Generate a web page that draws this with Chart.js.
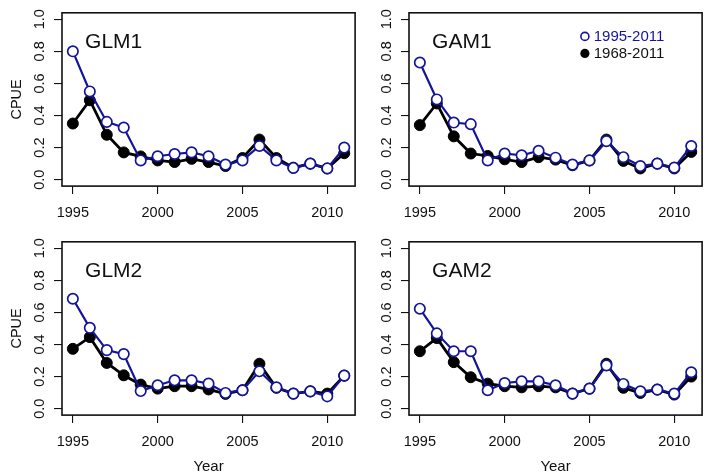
<!DOCTYPE html>
<html>
<head>
<meta charset="utf-8">
<script src="https://cdn.jsdelivr.net/npm/chart.js@4/dist/chart.umd.min.js"></script>
<style>
  html, body { margin: 0; padding: 0; background: #fff; width: 704px; height: 474px; overflow: hidden; position: relative; }
  canvas { position: absolute; }
</style>
</head>
<body>
<canvas id="glm1" width="362" height="237" style="left:0;top:0"></canvas>
<canvas id="gam1" width="362" height="237" style="left:347px;top:0"></canvas>
<canvas id="glm2" width="362" height="250" style="left:0;top:229px"></canvas>
<canvas id="gam2" width="362" height="250" style="left:347px;top:229px"></canvas>
<script>
const years = [1995, 1996, 1997, 1998, 1999, 2000, 2001, 2002, 2003, 2004, 2005, 2006, 2007, 2008, 2009, 2010, 2011];
const yearTicks = [1995, 2000, 2005, 2010];
const cpueTicks = [0, 0.2, 0.4, 0.6, 0.8, 1.0];
const seriesNames = ['1995-2011', '1968-2011'];

// CPUE index per model, short series (1995-2011) and long series (1968-2011)
const glm1Recent = [0.80, 0.55, 0.36, 0.325, 0.12, 0.146, 0.16, 0.17, 0.146, 0.094, 0.12, 0.21, 0.12, 0.073, 0.10, 0.07, 0.20];
const glm1Full   = [0.35, 0.495, 0.28, 0.17, 0.145, 0.12, 0.11, 0.13, 0.11, 0.085, 0.135, 0.25, 0.135, 0.075, 0.10, 0.07, 0.165];
const gam1Recent = [0.73, 0.50, 0.356, 0.346, 0.12, 0.163, 0.152, 0.18, 0.137, 0.094, 0.12, 0.24, 0.14, 0.085, 0.10, 0.075, 0.21];
const gam1Full   = [0.34, 0.475, 0.27, 0.163, 0.148, 0.127, 0.11, 0.14, 0.125, 0.09, 0.12, 0.25, 0.117, 0.07, 0.10, 0.07, 0.173];
const glm2Recent = [0.685, 0.504, 0.365, 0.34, 0.11, 0.146, 0.177, 0.177, 0.156, 0.098, 0.115, 0.233, 0.133, 0.094, 0.108, 0.077, 0.206];
const glm2Full   = [0.373, 0.446, 0.285, 0.208, 0.15, 0.125, 0.14, 0.14, 0.12, 0.092, 0.115, 0.28, 0.13, 0.094, 0.108, 0.094, 0.206];
const gam2Recent = [0.623, 0.469, 0.358, 0.358, 0.115, 0.16, 0.17, 0.17, 0.146, 0.094, 0.125, 0.27, 0.154, 0.108, 0.119, 0.094, 0.227];
const gam2Full   = [0.358, 0.44, 0.29, 0.196, 0.156, 0.14, 0.133, 0.14, 0.133, 0.094, 0.125, 0.28, 0.13, 0.098, 0.119, 0.088, 0.20];

const BLUE = '#14149a';
const INK = '#111';
const FONT = "'Liberation Sans', Arial, Helvetica, sans-serif";

Chart.defaults.font.family = FONT;
Chart.defaults.color = INK;

const PLOT_TOP = 12.8;
const PLOT_BOTTOM = 186.1;

function toPoints(values) {
    return years.map((yr, i) => ({ x: yr, y: values[i] }));
}

// box around the plot region, like R's bty="o"
const frameBox = {
    id: 'frameBox',
    afterDraw(chart) {
        const a = chart.chartArea;
        const ctx = chart.ctx;
        ctx.save();
        ctx.strokeStyle = INK;
        ctx.lineWidth = 1.6;
        ctx.strokeRect(a.left, a.top, a.right - a.left, a.bottom - a.top);
        ctx.restore();
    }
};

// model name in the upper left and optional series key
const panelText = {
    id: 'panelText',
    afterDraw(chart, args, opts) {
        const ctx = chart.ctx;
        const xs = chart.scales.x;
        const ys = chart.scales.y;
        ctx.save();
        ctx.font = '21px ' + FONT;
        ctx.fillStyle = INK;
        ctx.textAlign = 'left';
        ctx.textBaseline = 'middle';
        ctx.fillText(opts.label, xs.getPixelForValue(1995.72), ys.getPixelForValue(0.855));

        if (opts.key) {
            const cx = xs.getPixelForValue(2004.73);
            const tx = xs.getPixelForValue(2005.25);
            const y1 = ys.getPixelForValue(0.893);
            const y2 = ys.getPixelForValue(0.787);
            ctx.font = '15px ' + FONT;

            ctx.beginPath();
            ctx.arc(cx, y1, 4, 0, Math.PI * 2);
            ctx.fillStyle = '#fff';
            ctx.fill();
            ctx.lineWidth = 1.6;
            ctx.strokeStyle = BLUE;
            ctx.stroke();
            ctx.fillStyle = BLUE;
            ctx.fillText(seriesNames[0], tx, y1 + 0.5);

            ctx.beginPath();
            ctx.arc(cx, y2, 4.6, 0, Math.PI * 2);
            ctx.fillStyle = '#000';
            ctx.fill();
            ctx.fillStyle = INK;
            ctx.fillText(seriesNames[1], tx, y2 + 0.5);
        }
        ctx.restore();
    }
};

function makePanel(id, label, recent, full, showCpue, showYear, showKey) {
    const canvas = document.getElementById(id);
    const H = canvas.height;
    return new Chart(canvas, {
        type: 'line',
        data: {
            datasets: [
                {
                    label: seriesNames[0],
                    data: toPoints(recent),
                    borderColor: BLUE,
                    borderWidth: 2.2,
                    pointRadius: 5.2,
                    pointBorderWidth: 1.7,
                    pointBorderColor: BLUE,
                    pointBackgroundColor: '#fff',
                    tension: 0
                },
                {
                    label: seriesNames[1],
                    data: toPoints(full),
                    borderColor: '#000',
                    borderWidth: 2.8,
                    pointRadius: 5.5,
                    pointBorderWidth: 1,
                    pointBorderColor: '#000',
                    pointBackgroundColor: '#000',
                    tension: 0
                }
            ]
        },
        options: {
            responsive: false,
            animation: false,
            layout: { padding: { top: PLOT_TOP, left: 0, right: 1.6, bottom: 0 } },
            plugins: {
                legend: { display: false },
                tooltip: { enabled: false },
                panelText: { label: label, key: showKey }
            },
            scales: {
                x: {
                    type: 'linear',
                    min: 1994.36,
                    max: 2011.64,
                    afterBuildTicks: s => { s.ticks = yearTicks.map(v => ({ value: v })); },
                    afterFit: s => { s.height = H - PLOT_BOTTOM; },
                    ticks: {
                        autoSkip: false,
                        maxRotation: 0,
                        padding: 10.5,
                        font: { size: 14.5 },
                        color: INK,
                        callback: v => String(v)
                    },
                    grid: { drawOnChartArea: false, drawTicks: true, tickLength: 8, color: INK, lineWidth: 1.1 },
                    border: { display: false },
                    title: {
                        display: showYear,
                        text: 'Year',
                        font: { size: 15 },
                        color: INK,
                        padding: { top: 0, bottom: 3.2 }
                    }
                },
                y: {
                    type: 'linear',
                    min: -0.04,
                    max: 1.04,
                    afterBuildTicks: s => { s.ticks = cpueTicks.map(v => ({ value: v })); },
                    afterFit: s => { s.width = 62; },
                    ticks: {
                        minRotation: 90,
                        maxRotation: 90,
                        crossAlign: 'center',
                        padding: 4,
                        font: { size: 14.5 },
                        color: INK,
                        callback: v => v.toFixed(1)
                    },
                    grid: { drawOnChartArea: false, drawTicks: true, tickLength: 8, color: INK, lineWidth: 1.1 },
                    border: { display: false },
                    title: {
                        display: showCpue,
                        text: 'CPUE',
                        font: { size: 14.5 },
                        color: INK,
                        padding: { top: 8.3, bottom: 0 }
                    }
                }
            }
        },
        plugins: [frameBox, panelText]
    });
}

makePanel('glm1', 'GLM1', glm1Recent, glm1Full, true, false, false);
makePanel('gam1', 'GAM1', gam1Recent, gam1Full, false, false, true);
makePanel('glm2', 'GLM2', glm2Recent, glm2Full, true, true, false);
makePanel('gam2', 'GAM2', gam2Recent, gam2Full, false, true, false);
</script>
</body>
</html>
